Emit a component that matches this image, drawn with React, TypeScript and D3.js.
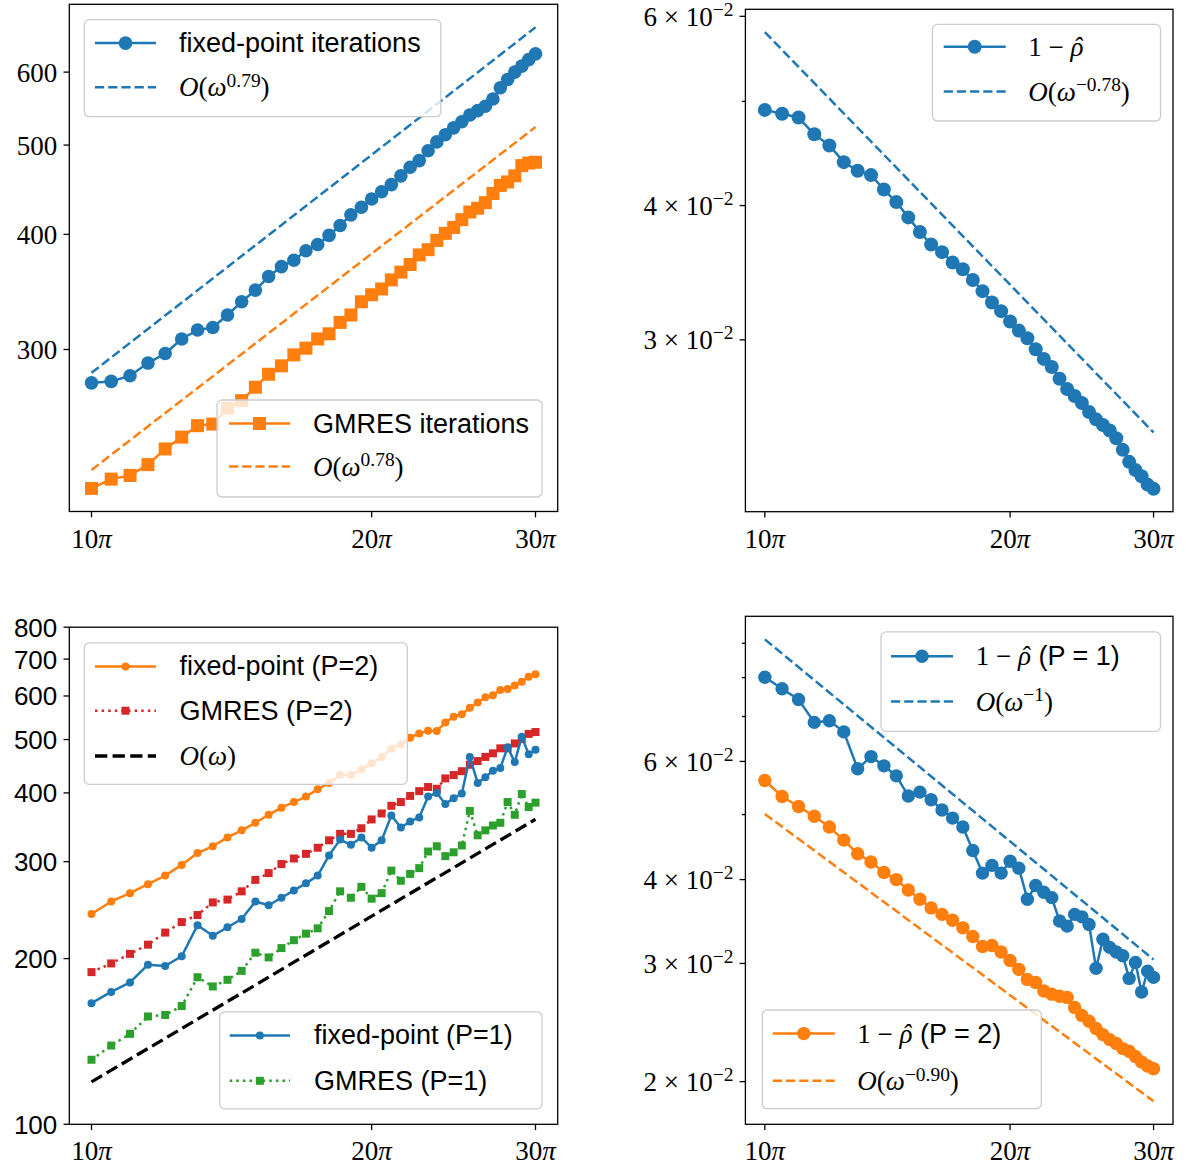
import React from 'react';
import * as d3 from 'd3';

// omega / pi at every sample, and at the ends of the fitted lines
const K = [10, 10.5, 11, 11.5, 12, 12.5, 13, 13.5, 14, 14.5, 15, 15.5, 16, 16.5, 17, 17.5, 18, 18.5, 19, 19.5, 20,
  20.5, 21, 21.5, 22, 22.5, 23, 23.5, 24, 24.5, 25, 25.5, 26, 26.5, 27, 27.5, 28, 28.5, 29, 29.5, 30];
const FIT_K = [10, 30];
const X_TICKS = [10, 20, 30];

// top left: iteration counts
const FP_ITERS = [276, 277, 281, 290, 297, 308, 315, 317, 327, 338, 348, 360, 369, 375, 384, 390, 399, 409, 420, 428,
  437, 445, 453, 463, 473, 481, 493, 504, 513, 522, 530, 539, 545, 551, 561, 577, 589, 600, 609, 619, 628];
const GMRES_ITERS = [212, 217, 219, 225, 234, 241, 248, 249, 259, 264, 273, 282, 288, 296, 301, 308, 312, 321, 327, 338,
  344, 349, 357, 364, 371, 380, 385, 394, 401, 407, 415, 423, 427, 433, 443, 452, 456, 463, 475, 478, 479];
const FP_FIT = [283, 671];
const GMRES_FIT = [222, 523];
const TL_TICKS = [300, 400, 500, 600];

// top right: 1 - rho hat
const RHO_GAP = [0.0491, 0.0487, 0.0483, 0.0466, 0.0455, 0.0439, 0.0431, 0.0427, 0.0414, 0.0403, 0.039, 0.0378, 0.0368,
  0.0362, 0.0354, 0.0349, 0.0341, 0.0333, 0.0325, 0.0319, 0.0312, 0.0306, 0.0301, 0.0294, 0.0288, 0.0283, 0.0276, 0.027,
  0.0266, 0.0262, 0.0257, 0.0253, 0.025, 0.0247, 0.0243, 0.0237, 0.0231, 0.0227, 0.0224, 0.022, 0.0218];
const RHO_FIT = [0.058, 0.0246];
const TR_TICKS = [0.03, 0.04, 0.05, 0.06];
const TR_LABELS = ['3', '4', '', '6'];

// bottom left: iterations for P=1 and P=2
const FP_P2 = [241, 254, 263, 273, 283, 296, 311, 320, 332, 342, 353, 365, 376, 385, 394, 406, 417, 431, 431, 441,
  453, 465, 481, 490, 504, 513, 519, 518, 537, 550, 556, 571, 584, 597, 602, 615, 618, 627, 637, 650, 657];
const GMRES_P2 = [189, 196, 204, 212, 223, 233, 240, 253, 256, 265, 278, 286, 297, 304, 310, 318, 328, 337, 337, 345,
  358, 367, 379, 385, 395, 403, 410, 407, 425, 431, 438, 450, 457, 465, 472, 482, 482, 492, 501, 512, 516];
const FP_P1 = [166, 174, 181, 195, 194, 202, 230, 220, 228, 236, 254, 250, 258, 266, 274, 283, 308, 329, 322, 332,
  318, 328, 364, 346, 355, 361, 394, 400, 382, 391, 399, 465, 417, 427, 439, 444, 484, 455, 506, 470, 479];
const GMRES_P1 = [131, 139, 146, 157, 158, 164, 185, 178, 183, 190, 205, 201, 209, 216, 222, 227, 244, 265, 258, 270,
  257, 263, 289, 277, 285, 292, 313, 320, 307, 312, 321, 371, 335, 342, 349, 353, 385, 365, 398, 377, 384];
const LINEAR_FIT = [119.4, 358.2];
const BL_TICKS = [100, 200, 300, 400, 500, 600, 700, 800];

// bottom right: 1 - rho hat for P=1 and P=2
const RHO_P1 = [0.0801, 0.077, 0.0742, 0.0686, 0.069, 0.0664, 0.0585, 0.061, 0.0591, 0.0571, 0.0533, 0.054, 0.0526,
  0.0508, 0.0494, 0.0479, 0.0442, 0.0409, 0.042, 0.0409, 0.0426, 0.0416, 0.0374, 0.0392, 0.0383, 0.0376, 0.0347, 0.0341,
  0.0355, 0.0352, 0.0343, 0.0295, 0.0326, 0.0317, 0.0312, 0.0308, 0.0285, 0.0301, 0.0272, 0.0292, 0.0286];
const RHO_P2 = [0.0562, 0.0532, 0.0514, 0.0497, 0.0479, 0.0458, 0.0437, 0.0425, 0.041, 0.04, 0.0386, 0.0374, 0.0363,
  0.0355, 0.0348, 0.0339, 0.0329, 0.0318, 0.0319, 0.0312, 0.0303, 0.0294, 0.0284, 0.0281, 0.0273, 0.027, 0.0268, 0.0267,
  0.0258, 0.0251, 0.0246, 0.024, 0.0235, 0.0231, 0.0228, 0.0224, 0.0222, 0.0218, 0.0214, 0.0211, 0.0209];
const RHO_P1_FIT = [0.0912, 0.0304];
const RHO_P2_FIT = [0.0501, 0.0187];
const BR_TICKS = [0.02, 0.03, 0.04, 0.05, 0.06, 0.07, 0.08, 0.09];
const BR_LABELS = ['2', '3', '4', '', '6', '', '', ''];

const SERIF = "'Liberation Serif', 'DejaVu Serif', serif";
const SANS = "'Liberation Sans', 'DejaVu Sans', sans-serif";
const FS = 27;

const BLUE = '#1f77b4';
const ORANGE = '#ff7f0e';
const GREEN = '#2ca02c';
const RED = '#d62728';

const DASH = '9.2 4';
const DOT = '2.5 4.1';

type Part = { t: string; i?: boolean; sup?: boolean; sans?: boolean; hat?: boolean };
type Style = { color: string; width: number; dash?: string; marker?: 'circle' | 'square'; size?: number };
type Series = { k: number[]; values: number[]; style: Style };
type Frame = { x0: number; x1: number; y0: number; y1: number };
type LegendSpec = {
  box: { x: number; y: number; w: number; h: number };
  hx: [number, number];
  tx: number;
  rows: { y: number; style: Style; label: Part[] }[];
};

function padLog([a, b]: number[]): [number, number] {
  const la = Math.log(a), lb = Math.log(b), d = (lb - la) * 0.05;
  return [Math.exp(la - d), Math.exp(lb + d)];
}

function Rich({ x, y, parts, size = FS, anchor = 'start', family = SERIF, rise = 0.34 }:
  { x: number; y: number; parts: Part[]; size?: number; anchor?: string; family?: string; rise?: number }) {
  let up = false;
  let back = 0;
  return (
    <text x={x} y={y} fontSize={size} textAnchor={anchor} fontFamily={family} fill="#000">
      {parts.map((p, i) => {
        if (p.hat) {
          // circumflex laid back over the previous glyph
          back = 1.5;
          return <tspan key={i} dx={-10.5} fontStyle="italic">ˆ</tspan>;
        }
        let dy: number | undefined;
        let dx: number | undefined = back || undefined;
        back = 0;
        if (p.sup && !up) { dy = -size * rise; up = true; }
        else if (!p.sup && up) { dy = size * rise; up = false; }
        return (
          <tspan key={i} dx={dx} dy={dy} fontSize={p.sup ? size * 0.72 : undefined}
            fontStyle={p.i ? 'italic' : undefined} fontFamily={p.sans ? SANS : undefined}>{p.t}</tspan>
        );
      })}
    </text>
  );
}

function Marker({ x, y, style }: { x: number; y: number; style: Style }) {
  const s = style.size ?? 0;
  if (style.marker === 'circle') return <circle cx={x} cy={y} r={s / 2} fill={style.color} />;
  if (style.marker === 'square') return <rect x={x - s / 2} y={y - s / 2} width={s} height={s} fill={style.color} />;
  return null;
}

function Legend({ spec }: { spec: LegendSpec }) {
  const { box, hx, tx, rows } = spec;
  return (
    <g>
      <rect x={box.x} y={box.y} width={box.w} height={box.h} rx={5} fill="#fff" fillOpacity={0.8}
        stroke="#cccccc" strokeWidth={1.3} />
      {rows.map((r, i) => (
        <g key={i}>
          <line x1={hx[0]} x2={hx[1]} y1={r.y} y2={r.y} stroke={r.style.color} strokeWidth={r.style.width}
            strokeDasharray={r.style.dash} />
          <Marker x={(hx[0] + hx[1]) / 2} y={r.y} style={r.style} />
          <Rich x={tx} y={r.y + 9} parts={r.label} />
        </g>
      ))}
    </g>
  );
}

function Panel({ frame, series, yDomain, yTicks, yLabel, legends }: {
  frame: Frame; series: Series[]; yDomain?: [number, number]; yTicks: number[];
  yLabel: (v: number, i: number) => React.ReactNode; legends: LegendSpec[];
}) {
  const { x0, x1, y0, y1 } = frame;
  const x = d3.scaleLog().domain(padLog([FIT_K[0] * Math.PI, FIT_K[1] * Math.PI])).range([x0, x1]);
  const all = series.flatMap(s => s.values);
  const y = d3.scaleLog().domain(yDomain ?? padLog(d3.extent(all) as number[])).range([y1, y0]);
  const line = d3.line<[number, number]>().x(d => x(d[0] * Math.PI)).y(d => y(d[1]));
  return (
    <g>
      {series.map((s, i) => {
        const pts = s.k.map((k, j) => [k, s.values[j]] as [number, number]);
        return (
          <g key={i}>
            <path d={line(pts) ?? ''} fill="none" stroke={s.style.color} strokeWidth={s.style.width}
              strokeDasharray={s.style.dash} strokeLinejoin="round" />
            {s.style.marker && pts.map((p, j) => (
              <Marker key={j} x={x(p[0] * Math.PI)} y={y(p[1])} style={s.style} />
            ))}
          </g>
        );
      })}
      <rect x={x0} y={y0} width={x1 - x0} height={y1 - y0} fill="none" stroke="#000" strokeWidth={1.3} />
      {X_TICKS.map(k => (
        <g key={k}>
          <line x1={x(k * Math.PI)} x2={x(k * Math.PI)} y1={y1} y2={y1 + 5.8} stroke="#000" strokeWidth={1.3} />
          <Rich x={x(k * Math.PI)} y={y1 + 36} anchor="middle" parts={[{ t: String(k) }, { t: 'π', i: true }]} />
        </g>
      ))}
      {yTicks.map((v, i) => {
        const lab = yLabel(v, i);
        return (
          <g key={v}>
            <line x1={x0 - (lab ? 5.8 : 3.5)} x2={x0} y1={y(v)} y2={y(v)} stroke="#000" strokeWidth={1.3} />
            {lab && <g transform={`translate(${x0 - 12},${y(v) + 9.5})`}>{lab}</g>}
          </g>
        );
      })}
      {legends.map((l, i) => <Legend key={i} spec={l} />)}
    </g>
  );
}

const sci = (m: string) => m
  ? <Rich x={0} y={0} anchor="end" rise={0.38} parts={[{ t: `${m} × 10` }, { t: '−2', sup: true }]} />
  : null;

export default function App() {
  const fpStyle: Style = { color: BLUE, width: 2.5, marker: 'circle', size: 13.6 };
  const gmStyle: Style = { color: ORANGE, width: 2.5, marker: 'square', size: 13 };
  const fitBlue: Style = { color: BLUE, width: 2.5, dash: DASH };
  const fitOrange: Style = { color: ORANGE, width: 2.5, dash: DASH };
  const rhoStyle: Style = { color: BLUE, width: 2.5, marker: 'circle', size: 14 };
  const fp2Style: Style = { color: ORANGE, width: 2.5, marker: 'circle', size: 8 };
  const gm2Style: Style = { color: RED, width: 2.5, dash: DOT, marker: 'square', size: 8 };
  const fp1Style: Style = { color: BLUE, width: 2.5, marker: 'circle', size: 8 };
  const gm1Style: Style = { color: GREEN, width: 2.5, dash: DOT, marker: 'square', size: 8 };
  const linStyle: Style = { color: '#000', width: 3.3, dash: '12.3 5.3' };
  const rho1Style: Style = { color: BLUE, width: 2.5, marker: 'circle', size: 13.4 };
  const rho2Style: Style = { color: ORANGE, width: 2.5, marker: 'circle', size: 13.4 };

  const O = (e?: string): Part[] => e
    ? [{ t: 'O', i: true }, { t: '(' }, { t: 'ω', i: true }, { t: e, sup: true }, { t: ')' }]
    : [{ t: 'O', i: true }, { t: '(' }, { t: 'ω', i: true }, { t: ')' }];
  const rho = (p?: string): Part[] => p
    ? [{ t: '1 − ' }, { t: 'ρ', i: true }, { t: 'ˆ', hat: true }, { t: ` (P = ${p})`, sans: true }]
    : [{ t: '1 − ' }, { t: 'ρ', i: true }, { t: 'ˆ', hat: true }];

  return (
    <div style={{ position: 'absolute', left: 0, top: 0, width: 1186, height: 1166, background: '#fff' }}>
      <svg width={1186} height={1166} style={{ display: 'block' }}>
        <Panel
          frame={{ x0: 69.3, x1: 557.7, y0: 4.3, y1: 511.5 }}
          series={[
            { k: K, values: FP_ITERS, style: fpStyle },
            { k: FIT_K, values: FP_FIT, style: fitBlue },
            { k: K, values: GMRES_ITERS, style: gmStyle },
            { k: FIT_K, values: GMRES_FIT, style: fitOrange },
          ]}
          yTicks={TL_TICKS}
          yLabel={v => <Rich x={0} y={0} anchor="end" parts={[{ t: String(v) }]} />}
          legends={[
            {
              box: { x: 84.3, y: 19.7, w: 356.5, h: 97 }, hx: [95, 156], tx: 179,
              rows: [
                { y: 43.1, style: fpStyle, label: [{ t: 'fixed-point iterations', sans: true }] },
                { y: 87.2, style: fitBlue, label: O('0.79') },
              ],
            },
            {
              box: { x: 217, y: 400, w: 325, h: 97 }, hx: [229, 290], tx: 313,
              rows: [
                { y: 423.5, style: gmStyle, label: [{ t: 'GMRES iterations', sans: true }] },
                { y: 466.6, style: fitOrange, label: O('0.78') },
              ],
            },
          ]}
        />
        <Panel
          frame={{ x0: 745.4, x1: 1173, y0: 9.3, y1: 511.7 }}
          series={[
            { k: K, values: RHO_GAP, style: rhoStyle },
            { k: FIT_K, values: RHO_FIT, style: fitBlue },
          ]}
          yTicks={TR_TICKS}
          yLabel={(_, i) => sci(TR_LABELS[i])}
          legends={[
            {
              box: { x: 932.5, y: 24.4, w: 228, h: 96.6 }, hx: [943.7, 1005.7], tx: 1028.3,
              rows: [
                { y: 46.7, style: rhoStyle, label: rho() },
                { y: 91.5, style: fitBlue, label: O('−0.78') },
              ],
            },
          ]}
        />
        <Panel
          frame={{ x0: 69.3, x1: 557.7, y0: 627.2, y1: 1124.3 }}
          series={[
            { k: K, values: FP_P2, style: fp2Style },
            { k: K, values: GMRES_P2, style: gm2Style },
            { k: FIT_K, values: LINEAR_FIT, style: linStyle },
            { k: K, values: FP_P1, style: fp1Style },
            { k: K, values: GMRES_P1, style: gm1Style },
          ]}
          yDomain={[100, 800]}
          yTicks={BL_TICKS}
          yLabel={v => <Rich x={0} y={0} anchor="end" size={26} family={SANS} parts={[{ t: String(v) }]} />}
          legends={[
            {
              box: { x: 84.3, y: 642.8, w: 323, h: 141.5 }, hx: [95, 156], tx: 179.5,
              rows: [
                { y: 666.4, style: fp2Style, label: [{ t: 'fixed-point (P=2)', sans: true }] },
                { y: 710.7, style: gm2Style, label: [{ t: 'GMRES (P=2)', sans: true }] },
                { y: 756, style: linStyle, label: O() },
              ],
            },
            {
              box: { x: 219.7, y: 1011.8, w: 322.3, h: 97 }, hx: [229.7, 290], tx: 314,
              rows: [
                { y: 1035.4, style: fp1Style, label: [{ t: 'fixed-point (P=1)', sans: true }] },
                { y: 1080.8, style: gm1Style, label: [{ t: 'GMRES (P=1)', sans: true }] },
              ],
            },
          ]}
        />
        <Panel
          frame={{ x0: 745.4, x1: 1173, y0: 616.3, y1: 1124.3 }}
          series={[
            { k: K, values: RHO_P1, style: rho1Style },
            { k: FIT_K, values: RHO_P1_FIT, style: fitBlue },
            { k: K, values: RHO_P2, style: rho2Style },
            { k: FIT_K, values: RHO_P2_FIT, style: fitOrange },
          ]}
          yTicks={BR_TICKS}
          yLabel={(_, i) => sci(BR_LABELS[i])}
          legends={[
            {
              box: { x: 881, y: 631.9, w: 279.5, h: 99.4 }, hx: [891, 953], tx: 975.7,
              rows: [
                { y: 656.2, style: rho1Style, label: rho('1') },
                { y: 701.6, style: fitBlue, label: O('−1') },
              ],
            },
            {
              box: { x: 762.3, y: 1010, w: 279, h: 98.7 }, hx: [772.8, 834.8], tx: 857.3,
              rows: [
                { y: 1033.6, style: rho2Style, label: rho('2') },
                { y: 1080.8, style: fitOrange, label: O('−0.90') },
              ],
            },
          ]}
        />
      </svg>
    </div>
  );
}
